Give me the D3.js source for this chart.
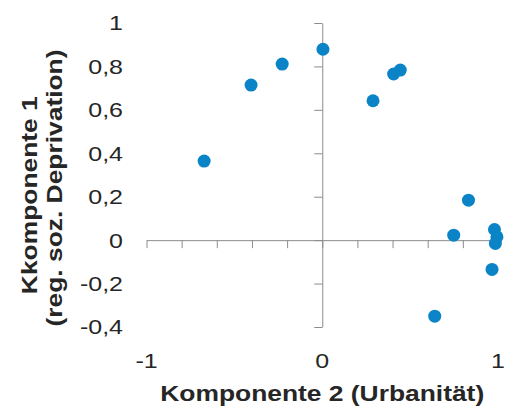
<!DOCTYPE html>
<html>
<head>
<meta charset="utf-8">
<script src="https://cdn.jsdelivr.net/npm/d3@7"></script>
<style>
  html, body { margin: 0; padding: 0; background: #fff; }
  svg { display: block; font-family: "Liberation Sans", Arial, sans-serif; }
</style>
</head>
<body>
<div id="chart"></div>
<script>
(function () {
  'use strict';

  // Komponente 2 (Urbanität) / Komponente 1 (reg. soz. Deprivation)
  var komp2 = [-0.672, -0.405, -0.228, 0.004, 0.289, 0.406, 0.444, 0.832, 0.748, 0.980, 0.994, 0.985, 0.966, 0.640];
  var komp1 = [0.364, 0.714, 0.811, 0.879, 0.642, 0.765, 0.783, 0.184, 0.023, 0.049, 0.015, -0.015, -0.135, -0.350];

  var xTicks = [-1, -0.8, -0.6, -0.4, -0.2, 0, 0.2, 0.4, 0.6, 0.8, 1];
  var xLabels = [-1, 0, 1];
  var yTicks = [-0.4, -0.2, 0, 0.2, 0.4, 0.6, 0.8, 1];

  var width = 506;
  var height = 410;
  var tickStretch = 1.19; // text in the original is drawn wider than Arial
  var titleStretch = 1.2;

  var de = d3.formatLocale({ decimal: ',', thousands: '.', grouping: [3], currency: ['', ' €'], minus: '-' });
  var fmt = de.format('~g');

  var x = d3.scaleLinear().domain([-1, 1]).range([146.5, 498]);
  var y = d3.scaleLinear().domain([-0.4, 1]).range([327, 23]);

  var svg = d3.select('#chart').append('svg')
    .attr('width', width)
    .attr('height', height);

  var axisColor = '#8c8c8c';
  var textColor = '#262626';

  // horizontal axis through y = 0, ticks pointing down
  var gx = svg.append('g')
    .attr('transform', 'translate(0,' + y(0) + ')')
    .call(d3.axisBottom(x).tickValues(xTicks).tickSize(8).tickSizeOuter(0).tickFormat(''));
  gx.select('.domain').attr('stroke', axisColor);
  gx.selectAll('.tick line').attr('stroke', axisColor);

  // vertical axis through x = 0, ticks pointing left
  var gy = svg.append('g')
    .attr('transform', 'translate(' + x(0) + ',0)')
    .call(d3.axisLeft(y).tickValues(yTicks).tickSize(8).tickSizeOuter(0).tickFormat(''));
  gy.select('.domain').attr('stroke', axisColor);
  gy.selectAll('.tick line').attr('stroke', axisColor);

  // y tick labels at the left edge
  svg.append('g').selectAll('text')
    .data(yTicks).enter().append('text')
    .attr('transform', function (d) { return 'translate(123,' + y(d) + ') scale(' + tickStretch + ',1)'; })
    .attr('dy', '0.35em')
    .attr('text-anchor', 'end')
    .attr('font-size', '21px')
    .attr('fill', textColor)
    .text(function (d) { return fmt(d); });

  // x tick labels at the bottom
  svg.append('g').selectAll('text')
    .data(xLabels).enter().append('text')
    .attr('transform', function (d) { return 'translate(' + x(d) + ',368) scale(' + tickStretch + ',1)'; })
    .attr('text-anchor', 'middle')
    .attr('font-size', '21px')
    .attr('fill', textColor)
    .text(function (d) { return fmt(d); });

  // points
  var pts = komp2.map(function (v, i) { return { x: v, y: komp1[i] }; });
  svg.append('g').selectAll('circle')
    .data(pts).enter().append('circle')
    .attr('cx', function (d) { return x(d.x); })
    .attr('cy', function (d) { return y(d.y); })
    .attr('r', 6.5)
    .attr('fill', '#0a84c6');

  // axis titles
  svg.append('text')
    .attr('transform', 'translate(' + x(0) + ',401) scale(' + titleStretch + ',1)')
    .attr('text-anchor', 'middle')
    .attr('font-size', '22px')
    .attr('font-weight', 'bold')
    .attr('fill', textColor)
    .text('Komponente 2 (Urbanität)');

  var yTitle = svg.append('g')
    .attr('transform', 'translate(0,188) rotate(-90) scale(' + titleStretch + ',1)')
    .attr('text-anchor', 'middle')
    .attr('font-size', '22px')
    .attr('font-weight', 'bold')
    .attr('fill', textColor);
  yTitle.append('text').attr('x', -6).attr('y', 37).text('Kkomponente 1');
  yTitle.append('text').attr('x', 0).attr('y', 62).text('(reg. soz. Deprivation)');
})();
</script>
</body>
</html>
